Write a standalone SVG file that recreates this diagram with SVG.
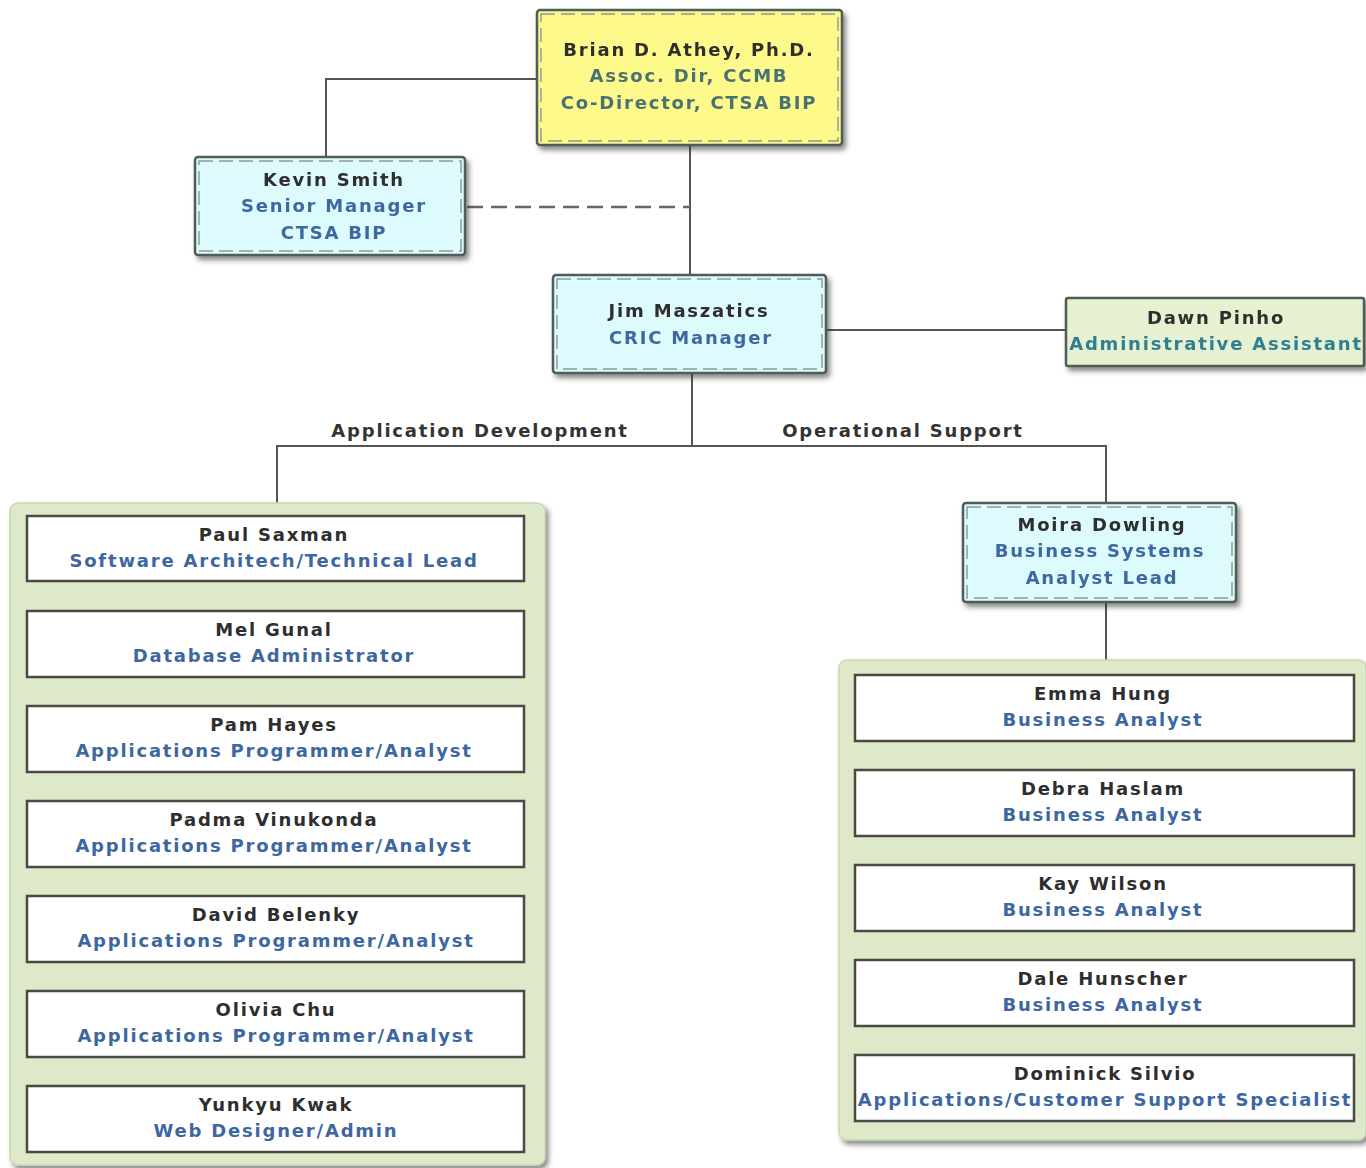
<svg xmlns="http://www.w3.org/2000/svg" width="1366" height="1168" viewBox="0 0 1366 1168">
<defs>
<filter id="sh" x="-10%" y="-10%" width="130%" height="140%">
<feDropShadow dx="3" dy="4" stdDeviation="2.5" flood-color="#333" flood-opacity="0.55"/>
</filter>
<style>
text{font-family:"DejaVu Sans",Verdana,sans-serif;font-weight:bold;font-size:18px;text-anchor:middle;letter-spacing:1.8px}
.n{fill:#2e2e2e}
.t{fill:#3d67a0}
.ty{fill:#4a7272}
.td{fill:#2f7f8f}
.lbl{fill:#333}
.conn{stroke:#555;stroke-width:2;fill:none}
.dash{stroke:#666;stroke-width:2.5;fill:none;stroke-dasharray:16 8}
.out{stroke:#4f5d58;stroke-width:2.5}
.in{fill:none;stroke:#8d9c96;stroke-width:1.5;stroke-dasharray:14 6}
.cont{fill:#dde9c8;stroke:#c8d8b4;stroke-width:1.5}
.card{fill:#fff;stroke:#4a4a42;stroke-width:2.5}
.cy{fill:#fdf98a}
.cc{fill:#ddfafc}
.cg{fill:#e6f1d2}
</style>
</defs>
<rect width="1366" height="1168" fill="#fff"/>
<g id="connectors">
<polyline class="conn" points="537,79 326,79 326,157"/>
<line class="conn" x1="690" y1="145" x2="690" y2="275"/>
<line class="dash" x1="467" y1="207" x2="690" y2="207"/>
<line class="conn" x1="826" y1="330" x2="1066" y2="330"/>
<line class="conn" x1="692" y1="373" x2="692" y2="446"/>
<polyline class="conn" points="277,503 277,446 1106,446 1106,503"/>
<line class="conn" x1="1106" y1="602" x2="1106" y2="660"/>
<text class="lbl" x="480" y="437">Application Development</text>
<text class="lbl" x="903" y="437">Operational Support</text>
</g>
<g id="brian" filter="url(#sh)">
<rect class="out cy" x="537" y="10" width="305" height="135" rx="3"/>
<rect class="in" x="541" y="14" width="297" height="127"/>
<text class="n" x="689" y="56">Brian D. Athey, Ph.D.</text>
<text class="ty" x="689" y="82">Assoc. Dir, CCMB</text>
<text class="ty" x="689" y="109">Co-Director, CTSA BIP</text>
</g>
<g id="kevin" filter="url(#sh)">
<rect class="out cc" x="195" y="157" width="270" height="98" rx="3"/>
<rect class="in" x="199" y="161" width="262" height="90"/>
<text class="n" x="334" y="186">Kevin Smith</text>
<text class="t" x="334" y="212">Senior Manager</text>
<text class="t" x="334" y="239">CTSA BIP</text>
</g>
<g id="jim" filter="url(#sh)">
<rect class="out cc" x="553" y="275" width="273" height="98" rx="3"/>
<rect class="in" x="557" y="279" width="265" height="90"/>
<text class="n" x="689" y="317">Jim Maszatics</text>
<text class="t" x="691" y="344">CRIC Manager</text>
</g>
<g id="dawn" filter="url(#sh)">
<rect class="out cg" x="1066" y="298" width="298" height="68" rx="2"/>
<text class="n" x="1216" y="324">Dawn Pinho</text>
<text class="td" x="1216" y="350">Administrative Assistant</text>
</g>
<g id="moira" filter="url(#sh)">
<rect class="out cc" x="963" y="503" width="273" height="99" rx="3"/>
<rect class="in" x="967" y="507" width="265" height="91"/>
<text class="n" x="1102" y="531">Moira Dowling</text>
<text class="t" x="1100" y="557">Business Systems</text>
<text class="t" x="1102" y="584">Analyst Lead</text>
</g>
<g id="appdev" filter="url(#sh)">
<rect class="cont" x="10" y="503" width="535" height="662" rx="8"/>
</g>
<g id="saxman"><rect class="card" x="27" y="516" width="497" height="65"/><text class="n" x="274" y="541">Paul Saxman</text><text class="t" x="274" y="567">Software Architech/Technical Lead</text></g>
<g id="gunal"><rect class="card" x="27" y="611" width="497" height="66"/><text class="n" x="274" y="636">Mel Gunal</text><text class="t" x="274" y="662">Database Administrator</text></g>
<g id="hayes"><rect class="card" x="27" y="706" width="497" height="66"/><text class="n" x="274" y="731">Pam Hayes</text><text class="t" x="274" y="757">Applications Programmer/Analyst</text></g>
<g id="vinukonda"><rect class="card" x="27" y="801" width="497" height="66"/><text class="n" x="274" y="826">Padma Vinukonda</text><text class="t" x="274" y="852">Applications Programmer/Analyst</text></g>
<g id="belenky"><rect class="card" x="27" y="896" width="497" height="66"/><text class="n" x="276" y="921">David Belenky</text><text class="t" x="276" y="947">Applications Programmer/Analyst</text></g>
<g id="chu"><rect class="card" x="27" y="991" width="497" height="66"/><text class="n" x="276" y="1016">Olivia Chu</text><text class="t" x="276" y="1042">Applications Programmer/Analyst</text></g>
<g id="kwak"><rect class="card" x="27" y="1086" width="497" height="66"/><text class="n" x="276" y="1111">Yunkyu Kwak</text><text class="t" x="276" y="1137">Web Designer/Admin</text></g>
<g id="opsupport" filter="url(#sh)">
<rect class="cont" x="839" y="660" width="527" height="480" rx="8"/>
</g>
<g id="hung"><rect class="card" x="855" y="675" width="499" height="66"/><text class="n" x="1103" y="700">Emma Hung</text><text class="t" x="1103" y="726">Business Analyst</text></g>
<g id="haslam"><rect class="card" x="855" y="770" width="499" height="66"/><text class="n" x="1103" y="795">Debra Haslam</text><text class="t" x="1103" y="821">Business Analyst</text></g>
<g id="wilson"><rect class="card" x="855" y="865" width="499" height="66"/><text class="n" x="1103" y="890">Kay Wilson</text><text class="t" x="1103" y="916">Business Analyst</text></g>
<g id="hunscher"><rect class="card" x="855" y="960" width="499" height="66"/><text class="n" x="1103" y="985">Dale Hunscher</text><text class="t" x="1103" y="1011">Business Analyst</text></g>
<g id="silvio"><rect class="card" x="855" y="1055" width="499" height="66"/><text class="n" x="1105" y="1080">Dominick Silvio</text><text class="t" x="1105" y="1106">Applications/Customer Support Specialist</text></g>
</svg>
